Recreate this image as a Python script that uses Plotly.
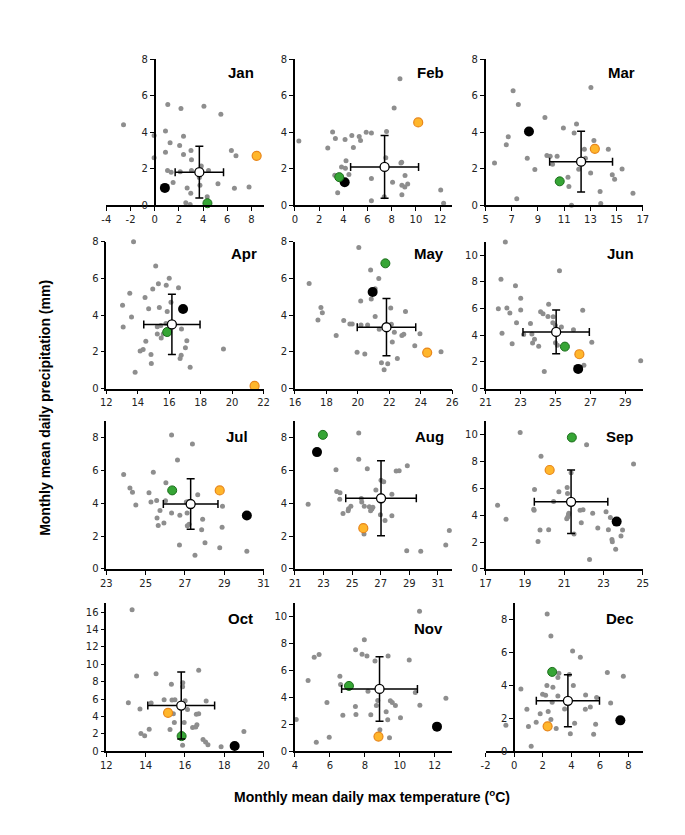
import plotly.graph_objects as go

months = ["Jan", "Feb", "Mar", "Apr", "May", "Jun", "Jul", "Aug", "Sep", "Oct", "Nov", "Dec"]

# ---- grey points (individual years) ----
jan_x = [-2.58, 1.08, 2.17, 4.07, 5.47, -0.05, 0.89, 2.38, 1.27, 2.06, 0.89, 2.38, 3.0, 3.04, 6.34, 6.72, -0.05, 1.06, 1.36, 2.11, 3.04, 3.85, 4.45, 5.23, 1.52, 2.68, 3.74, 2.98, 2.57, 2.93, 4.34, 6.59, 7.8, 3.69]
jan_y = [4.41, 5.52, 5.31, 5.43, 4.99, 3.82, 4.07, 3.78, 3.43, 3.28, 2.91, 2.78, 3.0, 2.49, 3.0, 2.71, 2.6, 1.9, 1.81, 1.83, 1.9, 2.15, 1.9, 1.18, 1.24, 0.95, 1.09, 0.65, 0.14, 0.04, 0.47, 0.93, 1.0, 1.52]
feb_x = [0.32, 8.68, 8.2, 3.11, 3.34, 2.71, 4.14, 4.7, 5.31, 5.42, 4.83, 5.89, 6.32, 7.57, 4.22, 3.85, 4.17, 3.29, 4.46, 3.53, 6.32, 6.32, 7.51, 8.76, 8.82, 8.07, 9.1, 8.84, 9.08, 9.32, 8.84, 7.38, 12.05, 12.29]
feb_y = [3.52, 6.94, 5.33, 4.02, 3.66, 3.14, 3.61, 3.82, 3.77, 3.55, 3.17, 4.0, 3.96, 4.04, 2.44, 2.1, 2.03, 1.65, 1.69, 0.68, 1.47, 0.25, 2.6, 2.31, 2.35, 1.26, 1.63, 1.09, 1.0, 1.17, 0.57, 0.47, 0.83, 0.11]
mar_x = [7.1, 7.5, 5.68, 6.58, 6.73, 7.38, 8.18, 8.76, 9.53, 9.68, 9.93, 10.11, 10.46, 10.94, 11.76, 11.94, 12.54, 12.62, 12.11, 13.02, 13.27, 13.04, 11.29, 11.36, 11.56, 13.74, 13.79, 14.37, 14.67, 14.85, 15.42, 16.25]
mar_y = [6.28, 5.52, 2.31, 3.32, 3.75, 0.36, 2.57, 1.96, 4.81, 2.73, 2.69, 2.24, 2.69, 4.23, 3.96, 4.45, 3.07, 2.57, 1.97, 1.76, 3.55, 6.46, 1.54, 1.02, 0.0, 0.75, 0.09, 3.07, 1.67, 1.43, 1.99, 0.65]
apr_x = [13.73, 15.14, 16.0, 15.31, 15.81, 16.59, 14.95, 13.49, 13.03, 14.46, 14.69, 15.37, 15.87, 16.11, 13.6, 13.07, 15.24, 15.47, 15.79, 15.24, 15.49, 15.62, 16.78, 17.12, 14.51, 14.34, 14.15, 14.84, 17.03, 16.76, 16.69, 14.86, 17.33, 13.83, 19.45]
apr_y = [8.0, 6.67, 6.01, 5.71, 5.62, 5.49, 5.42, 5.19, 4.54, 4.96, 4.35, 4.42, 4.2, 4.7, 3.9, 3.35, 3.36, 3.43, 3.54, 2.97, 2.75, 2.97, 3.24, 2.61, 2.58, 2.13, 2.04, 1.86, 2.22, 1.81, 1.63, 1.36, 1.16, 0.89, 2.15]
may_x = [20.06, 16.9, 20.81, 21.33, 17.65, 17.74, 17.46, 18.62, 19.1, 19.49, 19.64, 20.18, 20.85, 21.1, 21.1, 20.2, 20.62, 21.36, 22.09, 22.13, 22.32, 23.03, 22.8, 22.92, 22.19, 23.95, 23.62, 19.95, 20.44, 22.51, 21.5, 21.9, 21.67, 25.29]
may_y = [7.68, 5.72, 6.46, 5.99, 4.41, 4.13, 3.73, 2.89, 3.71, 3.52, 3.52, 4.77, 4.88, 5.43, 3.93, 3.46, 3.46, 3.23, 4.39, 3.5, 3.07, 4.2, 2.89, 2.96, 2.53, 2.98, 2.33, 1.97, 1.88, 1.63, 1.4, 1.35, 1.02, 2.01]
jun_x = [22.13, 21.88, 21.73, 22.22, 22.39, 22.71, 23.01, 23.01, 22.77, 21.94, 22.52, 23.18, 23.57, 23.65, 23.69, 23.8, 24.04, 24.15, 24.29, 24.61, 24.57, 24.87, 24.85, 25.0, 25.34, 25.23, 25.0, 25.11, 26.03, 26.56, 27.08, 24.36, 26.63, 29.88]
jun_y = [10.98, 8.19, 5.98, 6.03, 5.66, 7.7, 6.76, 5.88, 4.93, 4.14, 3.36, 4.04, 4.88, 4.09, 3.41, 3.7, 3.16, 5.76, 5.61, 6.32, 5.39, 5.37, 4.93, 4.73, 4.61, 8.82, 3.43, 3.24, 4.41, 5.86, 3.46, 1.27, 1.74, 2.08]
jul_x = [26.32, 27.38, 26.62, 23.88, 25.39, 24.2, 24.33, 24.5, 25.17, 25.27, 25.56, 26.03, 26.01, 25.73, 25.58, 25.64, 25.93, 26.32, 26.74, 27.11, 27.07, 27.17, 27.65, 27.12, 27.21, 27.9, 27.85, 28.89, 28.91, 28.02, 26.72, 28.77, 27.51, 30.15]
jul_y = [8.15, 7.6, 6.63, 5.75, 5.89, 4.92, 4.66, 3.89, 4.64, 4.07, 4.17, 5.24, 4.15, 3.55, 3.1, 2.64, 2.8, 3.41, 3.27, 3.41, 4.07, 4.11, 4.52, 2.62, 2.72, 3.02, 2.38, 2.54, 3.81, 1.59, 1.45, 1.29, 0.83, 1.07]
aug_x = [25.46, 25.46, 23.87, 26.06, 28.08, 28.29, 28.86, 27.02, 27.21, 27.78, 26.66, 23.92, 24.15, 24.13, 21.92, 25.64, 25.67, 25.85, 26.2, 26.38, 26.45, 26.29, 24.91, 24.75, 24.72, 24.36, 26.98, 27.3, 27.78, 25.83, 28.82, 29.8, 31.55, 31.8]
aug_y = [8.28, 6.67, 6.04, 6.1, 5.96, 5.98, 6.28, 5.39, 5.31, 4.55, 4.81, 4.71, 4.63, 4.24, 3.94, 4.28, 4.08, 3.82, 3.78, 3.64, 3.76, 3.54, 3.82, 3.66, 3.54, 3.37, 3.29, 2.95, 3.23, 2.12, 1.11, 1.07, 1.45, 2.34]
sep_x = [18.76, 22.14, 19.82, 24.53, 21.35, 19.49, 21.15, 21.17, 20.73, 20.46, 17.61, 18.04, 19.45, 19.47, 21.24, 21.22, 21.18, 21.13, 21.81, 21.96, 22.45, 23.13, 23.35, 21.87, 22.71, 23.25, 23.97, 23.89, 23.43, 23.45, 23.62, 19.77, 20.21, 19.67, 21.5, 22.29]
sep_y = [10.15, 9.23, 8.38, 7.81, 7.16, 5.91, 6.06, 5.61, 5.74, 5.01, 4.74, 3.69, 4.44, 4.36, 4.14, 4.04, 3.87, 3.74, 4.36, 4.41, 4.14, 4.26, 3.82, 3.44, 3.04, 2.92, 2.89, 2.44, 2.19, 2.02, 1.47, 2.89, 2.92, 2.04, 2.59, 0.7]
oct_x = [13.31, 13.54, 14.53, 16.7, 15.31, 15.89, 15.88, 13.12, 13.71, 14.28, 14.94, 15.34, 15.49, 16.01, 16.13, 15.41, 16.58, 16.7, 17.08, 15.46, 15.96, 16.61, 16.39, 16.55, 14.18, 15.24, 13.76, 13.95, 16.92, 17.05, 17.17, 15.88, 17.84, 19.0]
oct_y = [16.26, 8.64, 8.91, 9.32, 7.7, 7.89, 7.43, 5.58, 4.87, 5.55, 5.92, 5.89, 5.92, 5.81, 4.79, 4.3, 4.26, 4.3, 5.77, 3.32, 3.32, 3.06, 2.72, 2.79, 2.53, 2.49, 2.04, 1.77, 1.36, 1.06, 0.75, 0.68, 0.53, 2.26]
nov_x = [11.13, 7.97, 7.47, 7.84, 8.12, 9.33, 10.54, 5.1, 5.38, 4.75, 6.57, 6.61, 8.58, 8.18, 10.89, 8.74, 9.46, 9.57, 9.75, 8.66, 11.15, 12.64, 5.83, 7.46, 7.49, 6.74, 8.34, 9.22, 9.31, 10.04, 4.07, 8.86, 5.96, 5.22, 9.41]
nov_y = [10.42, 8.3, 7.56, 7.21, 7.09, 7.09, 6.79, 6.99, 7.19, 5.26, 5.58, 4.96, 6.72, 4.47, 4.37, 3.78, 3.75, 3.63, 3.41, 3.41, 3.43, 3.95, 3.63, 3.33, 2.74, 2.67, 2.72, 2.94, 2.35, 2.49, 2.37, 1.6, 1.04, 0.67, 1.01]
dec_x = [2.31, 2.57, 4.09, 4.63, 6.52, 7.64, 3.13, 3.06, 3.86, 0.47, 2.29, 2.71, 4.14, 1.99, 2.2, 3.06, 2.66, 5.0, 5.77, 6.75, 0.89, 2.38, 1.82, 3.53, 4.98, 5.33, 2.57, 1.54, 4.23, 5.7, 1.0, 2.94, -0.58, 3.93, 5.56, 1.19]
dec_y = [8.36, 7.01, 6.11, 5.73, 4.79, 4.57, 4.75, 4.49, 4.67, 3.79, 4.01, 3.89, 4.01, 3.47, 3.41, 3.37, 2.99, 3.43, 3.27, 2.93, 2.55, 2.42, 2.28, 2.57, 2.55, 2.69, 1.94, 1.76, 1.7, 1.64, 1.5, 1.38, 1.58, 1.06, 1.04, 0.3]

grey_x = [jan_x, feb_x, mar_x, apr_x, may_x, jun_x, jul_x, aug_x, sep_x, oct_x, nov_x, dec_x]
grey_y = [jan_y, feb_y, mar_y, apr_y, may_y, jun_y, jul_y, aug_y, sep_y, oct_y, nov_y, dec_y]

# ---- highlighted years (one value per month) ----
black_x = [0.84, 4.11, 8.31, 16.88, 20.94, 26.3, 30.15, 22.54, 23.67, 18.53, 12.13, 7.43]
black_y = [0.95, 1.26, 4.04, 4.33, 5.26, 1.47, 3.25, 7.11, 3.52, 0.6, 1.83, 1.88]
green_x = [4.36, 3.66, 10.66, 15.87, 21.75, 25.54, 26.35, 22.95, 21.39, 15.83, 7.09, 2.66]
green_y = [0.11, 1.54, 1.31, 3.08, 6.82, 3.14, 4.78, 8.16, 9.78, 1.74, 4.86, 4.83]
orange_x = [8.43, 10.19, 13.34, 21.43, 24.41, 26.37, 28.77, 25.78, 20.26, 15.14, 8.78, 2.34]
orange_y = [2.71, 4.54, 3.09, 0.14, 1.96, 2.57, 4.78, 2.48, 7.36, 4.42, 1.09, 1.52]

# ---- mean +/- SD ----
mean_x = [3.69, 7.41, 12.29, 16.17, 21.82, 25.04, 27.29, 27.02, 21.35, 15.81, 8.84, 3.76]
mean_y = [1.81, 2.1, 2.39, 3.49, 3.34, 4.24, 3.95, 4.3, 4.99, 5.25, 4.64, 3.07]
sd_x = [2.0, 2.81, 2.4, 1.79, 1.86, 1.9, 1.39, 2.47, 1.87, 1.7, 2.17, 2.21]
sd_y = [1.42, 1.72, 1.67, 1.64, 1.56, 1.64, 1.54, 2.28, 2.36, 3.85, 2.4, 1.58]

# ---- axis ranges ----
x_ranges = [[-4, 9], [0, 13], [5, 17], [12, 22], [16, 26], [21, 30],
            [23, 31], [21, 32], [17, 25], [12, 20], [4, 13], [-2, 9]]
y_ranges = [[0, 8], [0, 8], [0, 8], [0, 8], [0, 8], [0, 11],
            [0, 9], [0, 9], [0, 11], [0, 17], [0, 11], [0, 9]]

W, H = 685, 835
col_px = [(94, 254), (286, 446), (480, 640)]
row_px = [(46, 194), (231, 380), (413, 563), (598, 748)]
title_pos = [(246, 59), (440, 59), (634, 59), (249, 243), (440, 243), (633, 243),
             (240, 429), (440, 429), (633, 429), (245, 613), (439, 623), (633, 613)]

fig = go.Figure()
tickfont = dict(family="DejaVu Sans", size=10, color="#222222")
axis_common = dict(showline=True, linecolor="black", linewidth=1.5, ticks="outside",
                   ticklen=4, tickwidth=1, tickcolor="black", showgrid=False,
                   zeroline=False, tickfont=tickfont)

for i, m in enumerate(months):
    r, c = divmod(i, 3)
    n = i + 1
    xa = "x" if n == 1 else f"x{n}"
    ya = "y" if n == 1 else f"y{n}"
    xdom = [col_px[c][0] / W, col_px[c][1] / W]
    ydom = [1 - row_px[r][1] / H, 1 - row_px[r][0] / H]
    xr, yr = x_ranges[i], y_ranges[i]

    fig.add_trace(go.Scatter(x=grey_x[i], y=grey_y[i], mode="markers", xaxis=xa, yaxis=ya,
                             marker=dict(size=5, color="#8e8e8e"), showlegend=False,
                             hoverinfo="x+y", cliponaxis=False))
    fig.add_trace(go.Scatter(x=[black_x[i]], y=[black_y[i]], mode="markers", xaxis=xa, yaxis=ya,
                             marker=dict(size=10, color="black"), showlegend=False, cliponaxis=False))
    fig.add_trace(go.Scatter(x=[green_x[i]], y=[green_y[i]], mode="markers", xaxis=xa, yaxis=ya,
                             marker=dict(size=9, color="#36a535", line=dict(color="#1b6e1b", width=1)),
                             showlegend=False, cliponaxis=False))
    fig.add_trace(go.Scatter(x=[orange_x[i]], y=[orange_y[i]], mode="markers", xaxis=xa, yaxis=ya,
                             marker=dict(size=9, color="#ffb62b", line=dict(color="#e8861a", width=1.2)),
                             showlegend=False, cliponaxis=False))
    fig.add_trace(go.Scatter(x=[mean_x[i]], y=[mean_y[i]], mode="markers", xaxis=xa, yaxis=ya,
                             marker=dict(size=9, color="white", line=dict(color="black", width=1.3)),
                             error_x=dict(type="data", array=[sd_x[i]], color="black", thickness=1.5, width=4),
                             error_y=dict(type="data", array=[sd_y[i]], color="black", thickness=1.5, width=4),
                             showlegend=False, cliponaxis=False))

    xkey = "xaxis" if n == 1 else f"xaxis{n}"
    ykey = "yaxis" if n == 1 else f"yaxis{n}"
    xt = list(range(xr[0], xr[1] + 1, 2))
    fig.layout[xkey] = dict(domain=xdom, range=xr, anchor=ya, tickmode="array", tickvals=xt,
                            ticktext=[str(v) for v in xt], **axis_common)
    if xr[0] < 0:
        pos = xdom[0] + (0 - xr[0]) / (xr[1] - xr[0]) * (xdom[1] - xdom[0])
        fig.layout[ykey] = dict(domain=ydom, range=yr, anchor="free", position=pos,
                                tick0=0, dtick=2, **axis_common)
    else:
        fig.layout[ykey] = dict(domain=ydom, range=yr, anchor=xa, tick0=0, dtick=2, **axis_common)

    tx, ty = title_pos[i]
    fig.add_annotation(text=f"<b>{m}</b>", x=tx / W, y=1 - ty / H, xref="paper", yref="paper",
                       xanchor="right", yanchor="middle", showarrow=False,
                       font=dict(family="Liberation Sans", size=15, color="black"))

fig.add_annotation(text="<b>Monthly mean daily precipitation (mm)</b>", x=22 / W, y=1 - 400 / H,
                   xref="paper", yref="paper", textangle=-90, showarrow=False,
                   font=dict(family="Liberation Sans", size=14, color="black"))
fig.add_annotation(text="<b>Monthly mean daily max temperature (<sup>o</sup>C)</b>", x=364 / W, y=1 - 805 / H,
                   xref="paper", yref="paper", showarrow=False,
                   font=dict(family="Liberation Sans", size=14, color="black"))

fig.update_layout(width=W, height=H, margin=dict(l=0, r=0, t=0, b=0),
                  paper_bgcolor="white", plot_bgcolor="white")
fig.write_html("out.html")
